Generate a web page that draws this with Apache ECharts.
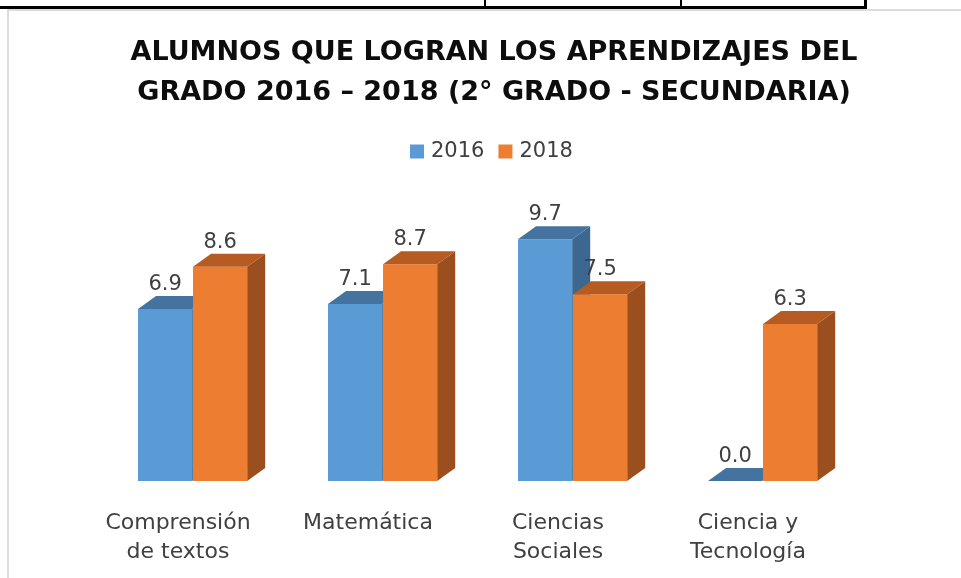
<!DOCTYPE html>
<html><head><meta charset="utf-8">
<script src="https://cdn.jsdelivr.net/npm/echarts@6/dist/echarts.min.js"></script>
<style>html,body{margin:0;padding:0;background:#fff}#c{width:961px;height:578px}</style>
</head><body><div id="c"></div>
<script>
const categories = ['Comprensión\nde textos', 'Matemática', 'Ciencias\nSociales', 'Ciencia y\nTecnología'];
const seriesNames = ['2016', '2018'];
const values2016 = [6.9, 7.1, 9.7, 0.0];
const values2018 = [8.6, 8.7, 7.5, 6.3];

const chart = echarts.init(document.getElementById('c'));
const FONT = '"DejaVu Sans", sans-serif';

function make3D(front, top, side, offFrac) {
  return function (params, api) {
    const idx = api.value(0), v = api.value(1);
    const pt = api.coord([idx, v]);
    const base = api.coord([idx, 0]);
    const band = api.size([1, 0])[0];
    const w = band * 0.285, dx = band * 0.095, dy = 13;
    const x0 = pt[0] + offFrac * band, x1 = x0 + w;
    const yt = pt[1], yb = base[1];
    const children = [];
    if (yb - yt > 0.5) {
      children.push({ type: 'polygon', shape: { points: [[x1, yt], [x1 + dx, yt - dy], [x1 + dx, yb - dy], [x1, yb]] }, style: { fill: side } });
      children.push({ type: 'rect', shape: { x: x0, y: yt, width: w, height: yb - yt }, style: { fill: front } });
    }
    children.push({ type: 'polygon', shape: { points: [[x0, yt], [x1, yt], [x1 + dx, yt - dy], [x0 + dx, yt - dy]] }, style: { fill: top } });
    children.push({ type: 'text', x: x0 + w / 2, y: yt - dy - 1,
      style: { text: v.toFixed(1), fill: '#404040', font: '21px ' + FONT, align: 'center', verticalAlign: 'bottom' } });
    return { type: 'group', children };
  };
}

chart.setOption({
  animation: false,
  backgroundColor: '#fff',
  title: {
    text: 'ALUMNOS QUE LOGRAN LOS APRENDIZAJES DEL\nGRADO 2016 – 2018 (2° GRADO - SECUNDARIA)',
    left: 489, top: 28, textAlign: 'center',
    textStyle: { fontFamily: FONT, fontWeight: 'bold', fontSize: 27, lineHeight: 40, color: '#0d0d0d' }
  },
  legend: {
    data: [{ name: '2016', itemStyle: { color: '#5B9BD5' } }, { name: '2018', itemStyle: { color: '#ED7D31' } }],
    top: 136, left: 405, icon: 'rect', itemWidth: 14, itemHeight: 14, itemGap: 14,
    textStyle: { fontFamily: FONT, fontSize: 21, color: '#404040', padding: [0, 0, 0, 2] }
  },
  grid: { left: 83, right: 118, top: 182, bottom: 97 },
  xAxis: {
    type: 'category', data: categories,
    axisLine: { show: false }, axisTick: { show: false },
    axisLabel: { margin: 28, fontFamily: FONT, fontSize: 22, lineHeight: 29, color: '#404040', interval: 0 }
  },
  yAxis: { type: 'value', min: 0, max: 12, show: false, splitLine: { show: false } },
  series: [
    { name: seriesNames[0], type: 'custom', renderItem: make3D('#5B9BD5', '#44739F', '#3C6791', -0.2105),
      data: values2016.map((v, i) => [i, v]), encode: { x: 0, y: 1 } },
    { name: seriesNames[1], type: 'custom', renderItem: make3D('#ED7D31', '#B65B22', '#9B4E1E', 0.079),
      data: values2018.map((v, i) => [i, v]), encode: { x: 0, y: 1 } }
  ],
  graphic: [
    { type: 'rect', shape: { x: 8, y: 10, width: 1200, height: 1200 }, style: { fill: 'none', stroke: '#dcdcdc', lineWidth: 2 }, silent: true },
    { type: 'line', shape: { x1: 0, y1: 7.5, x2: 867, y2: 7.5 }, style: { stroke: '#000', lineWidth: 3 }, silent: true },
    { type: 'line', shape: { x1: 485, y1: 0, x2: 485, y2: 7 }, style: { stroke: '#000', lineWidth: 2 }, silent: true },
    { type: 'line', shape: { x1: 681, y1: 0, x2: 681, y2: 7 }, style: { stroke: '#000', lineWidth: 2 }, silent: true },
    { type: 'line', shape: { x1: 865.5, y1: 0, x2: 865.5, y2: 7 }, style: { stroke: '#000', lineWidth: 3 }, silent: true }
  ]
});
</script></body></html>
